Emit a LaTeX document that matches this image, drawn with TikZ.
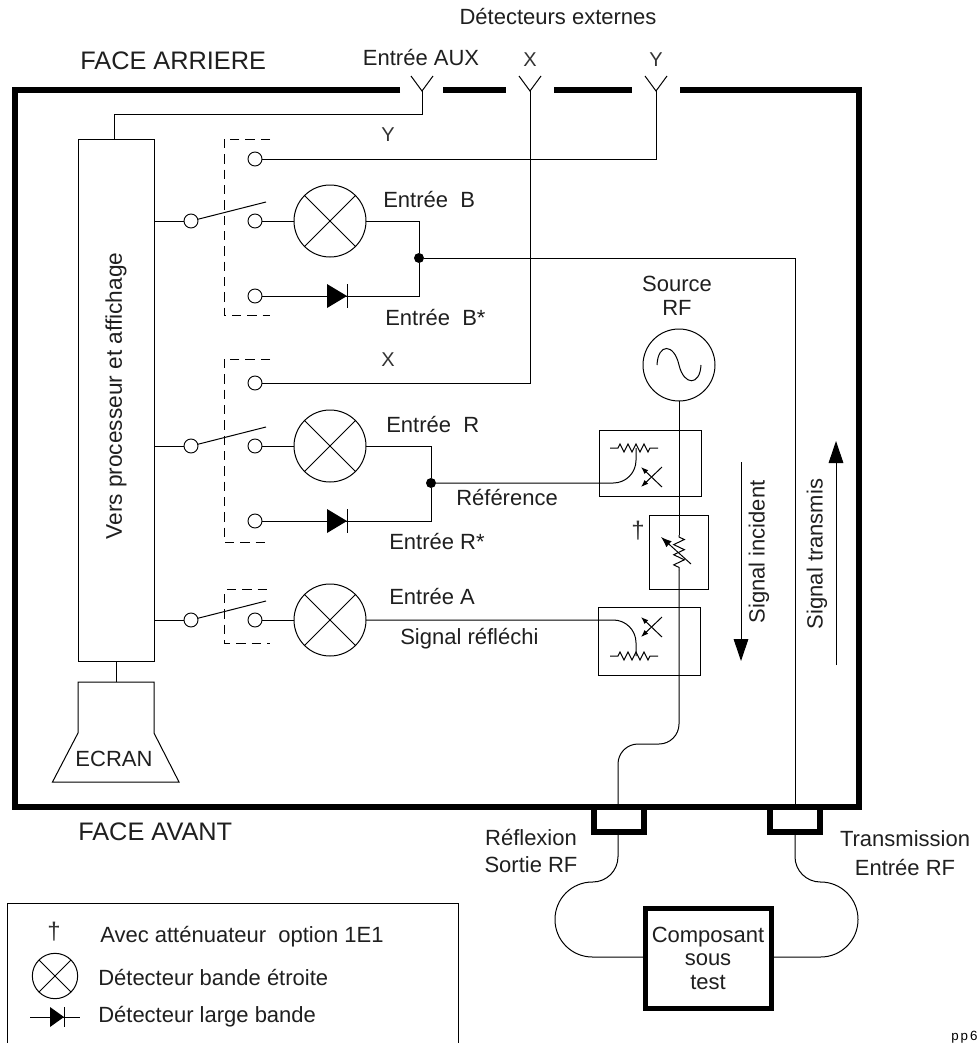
\documentclass[tikz,border=0pt]{standalone}
\usepackage{fontspec}
\setmainfont{Liberation Sans}
\usetikzlibrary{arrows.meta, positioning, shapes.geometric, decorations.pathmorphing}
\tikzset{
  wire/.style   = {line width=0.75pt},
  frame/.style  = {line width=4.5pt},
  dashbox/.style= {line width=0.7pt, dash pattern=on 7pt off 4.5pt},
  port/.style   = {circle, draw, fill=white, line width=0.7pt, minimum size=10.5pt,
                   inner sep=0pt, outer sep=0pt},
  detect/.style = {circle, draw, line width=0.75pt, minimum size=54pt,
                   inner sep=0pt, outer sep=0pt},
  joint/.style  = {circle, fill=black, minimum size=7.5pt, inner sep=0pt, outer sep=0pt},
  lbl/.style    = {font=\fontsize{16.5}{17.6}\selectfont, text=black!88, inner sep=0pt,
                   align=center},
  biglbl/.style = {font=\fontsize{19}{22}\selectfont, text=black!88, inner sep=0pt},
  xylbl/.style  = {font=\fontsize{15}{16}\selectfont, text=black!80, inner sep=0pt},
  dagger/.style = {font=\fontsize{18}{18}\selectfont, text=black!80, inner sep=0pt},
  boxed/.style  = {rectangle, draw, line width=0.75pt, inner sep=0pt, outer sep=0pt},
  res/.style    = {line width=0.75pt, decorate, decoration={zigzag, segment length=6pt,
                   amplitude=3pt, pre=lineto, pre length=6pt, post=lineto, post length=6pt}},
  bigarr/.style = {line width=0.75pt, -{Triangle[length=16.5pt, width=11pt]}},
  smallarr/.style = {line width=0.75pt, -{Latex[length=5.5pt, width=4pt]}},
}

\begin{document}
\begin{tikzpicture}[x=0.75pt, y=-0.75pt]
  \useasboundingbox (0,0) rectangle (977,1043);

  % rear and front panels
  \draw[frame] (400,90) -- (15,90) -- (15,807) -- (858.5,807) -- (858.5,90) -- (680,90);
  \draw[frame] (443,90) -- (506,90);
  \draw[frame] (554,90) -- (632,90);
  \foreach \a/\b in {593.5/643.5, 770/820}
    \draw[frame] (\a,807) |- (\b,832) -- (\b,807);

  \node[biglbl, anchor=west] (rear)  at (80,61) {FACE ARRIERE};
  \node[biglbl, anchor=west] (front) at (78,832) {FACE AVANT};
  \node[lbl] (extdet) at (558,17) {Détecteurs externes};
  \node[lbl] (auxlbl) at (421,58) {Entrée AUX};
  \node[xylbl] (xtop) at (530,60) {X};
  \node[xylbl] (ytop) at (656,60) {Y};
  \node[xylbl] (ylbl) at (388,135) {Y};
  \node[xylbl] (xlbl) at (388,360) {X};

  % antennas
  \coordinate (antaux) at (422,91);
  \coordinate (antx) at (530,91);
  \coordinate (anty) at (656,91);
  \foreach \n in {antaux, antx, anty}
    \draw[wire] ([shift={(-11,-15)}]\n) -- (\n) -- ([shift={(11,-15)}]\n);

  % processor and screen
  \node[boxed, minimum width=57pt, minimum height=391.5pt] (proc) at (116,400) {};
  \node[lbl, font=\fontsize{17}{18}\selectfont, rotate=90] (proctxt) at (116,396) {Vers processeur et affichage};
  \coordinate (auxbend) at (422,114);
  \coordinate (auxtop) at (114,139);
  \draw[wire] (antaux) -- (auxbend) -| (auxtop);
  \draw[wire] (78,682) -- (154,682) -- (154,733) -- (179,782) -- (52.5,782) -- (78,733) -- cycle;
  \coordinate (scrtop) at (116,682);
  \draw[wire] (proc.south) -- (scrtop);
  \node[lbl] (scrtxt) at (114,759) {ECRAN};

  % switches and narrow band detectors
  \foreach \g/\y in {b/221, r/446, a/620}{
    \node[port] (sw\g) at (191,\y) {};
    \node[port, right=37.5pt of sw\g] (in\g) {};
    \node[detect, right=24pt of in\g] (det\g) {};
    \coordinate (arm\g) at (266,{\y-19});
    \draw[wire] (proc.east |- sw\g) -- (sw\g);
    \draw[wire] (sw\g) -- (arm\g);
    \draw[wire] (in\g) -- (det\g);
    \draw[wire] (det\g.45) -- (det\g.225);
    \draw[wire] (det\g.135) -- (det\g.315);
  }

  % dashed switch covers
  \draw[dashbox] (270,139) -| (224,315) -- (270,315);
  \draw[dashbox] (270,359) -| (224,542) -- (270,542);
  \draw[dashbox] (227,589) -- (268,589);
  \draw[dashbox] (224,594) |- (270,643);

  % external detector inputs
  \node[port] (iny) at (255,159) {};
  \node[port] (inx) at (255,383) {};
  \draw[wire] (iny) -| (anty);
  \draw[wire] (inx) -| (antx);

  % broad band detectors
  \node[port] (lowb) at (255,296) {};
  \node[port] (lowr) at (255,521) {};
  \node[joint] (jb) at (419,258) {};
  \node[joint] (jr) at (431,483) {};
  \draw[wire] (detb) -| (jb);
  \draw[wire] (lowb) -| (jb);
  \draw[wire] (detr) -| (jr);
  \draw[wire] (lowr) -| (jr);
  \foreach \x/\y/\w/\h in {337/296/10/12, 337/521/10/12, 57/1017/7/10}{
    \fill (\x-\w,\y-\h) -- (\x+\w,\y) -- (\x-\w,\y+\h) -- cycle;
    \draw[line width=0.6pt] (\x+\w,\y-\h) -- (\x+\w,\y+\h);
  }

  \node[lbl, anchor=west] (lblb)  at (383,200) {Entrée~~B};
  \node[lbl, anchor=west] (lblbs) at (385,318) {Entrée~~B*};
  \node[lbl, anchor=west] (lblr)  at (386,425) {Entrée~~R};
  \node[lbl, anchor=west] (lblrs) at (389,542) {Entrée R*};
  \node[lbl, anchor=west] (lbla)  at (389,596) {Entrée A};
  \node[lbl, anchor=west] (lblref) at (456,498) {Référence};
  \node[lbl, anchor=west] (lblrefl) at (400,639) {Signal réfléchi};

  % source and signal path
  \node[detect] (src) at (679,365) {};
  \draw[wire] (657,365) .. controls (658,343) and (674,343) .. (679,365)
              .. controls (684,386) and (700,386) .. (701,365);
  \node[lbl] (srctxt) at (677,296) {Source\\RF};

  \node[boxed, minimum width=76.5pt, minimum height=50pt] (cpl1) at (650,463.5) {};
  \node[boxed, minimum width=44.25pt, minimum height=55.5pt] (atten) at (678.5,552) {};
  \node[boxed, minimum width=77pt, minimum height=51pt] (cpl2) at (649.5,641) {};
  \node[dagger] (dag) at (638,531) {†};

  \coordinate (atttop) at (679,535);
  \coordinate (attbot) at (679,570);
  \coordinate (rfb1) at (679,744);
  \coordinate (rfb2) at (618,744);
  \coordinate (rfout) at (618,807);
  \draw[wire] (src) -- (atttop);
  \draw[line width=0.75pt, decorate, decoration={zigzag, segment length=7.6pt, amplitude=4pt,
        pre=lineto, pre length=1.5pt, post=lineto, post length=1.5pt}] (atttop) -- (attbot);
  \draw[wire, rounded corners=15pt] (attbot) -- (rfb1) -- (rfb2) -- (rfout);
  \coordinate (attarr) at (661,537);
  \coordinate (attend) at (691,564);
  \draw[line width=0.75pt, -{Latex[length=8pt, width=6pt]}] (attend) -- (attarr);

  % couplers
  \foreach \n/\y in {1/448, 2/656}{
    \coordinate (rl\n) at (610,\y);
    \coordinate (rr\n) at (658,\y);
    \draw[res] (rl\n) -- (rr\n);
  }
  \coordinate (cb1) at (636,483);
  \coordinate (cr1) at (636,448);
  \coordinate (cb2) at (636,620);
  \coordinate (cr2) at (636,656);
  \draw[wire, rounded corners=17pt] (jr) -- (cb1) -- (cr1);
  \draw[wire, rounded corners=17pt] (deta) -- (cb2) -- (cr2);
  \foreach \y in {467, 617}{
    \draw[smallarr] (662,{\y+20}) -- (641,\y);
    \draw[smallarr] (662,\y) -- (641,{\y+20});
  }

  % transmitted signal
  \coordinate (trout) at (795,807);
  \draw[wire] (jb) -| (trout);
  \coordinate (arrtop) at (741,462);
  \coordinate (arrbot) at (741,661);
  \draw[bigarr] (arrtop) -- (arrbot);
  \coordinate (arrlow) at (836,665);
  \coordinate (arrhi) at (836,441);
  \draw[bigarr] (arrlow) -- (arrhi);
  \node[lbl, rotate=90] (incid) at (759,552) {Signal incident};
  \node[lbl, rotate=90] (trans) at (817,554) {Signal transmis};

  % device under test
  \node[boxed, line width=3.75pt, minimum width=94.5pt, minimum height=75pt] (dut) at (708,958) {};
  \node[lbl] (duttxt) at (708,958) {Composant\\sous\\test};
  \coordinate (cnl) at (618,832);
  \coordinate (cnr) at (795,832);
  \draw[wire, rounded corners=19pt] (cnl) -- (618,882) [rounded corners=28pt] -- (555,882) -- (555,957) -- (dut.west |- 0,957);
  \draw[wire, rounded corners=19pt] (cnr) -- (795,882) [rounded corners=28pt] -- (858,882) -- (858,957) -- (dut.east |- 0,957);
  \node[lbl] (refl) at (531,851) {Réflexion\\[2.5pt]Sortie RF};
  \node[lbl] (tran) at (905,853) {Transmission\\[4.5pt]Entrée RF};

  % legend
  \draw[wire] (7,1043) |- (458,903) -- (458,1043);
  \node[dagger] (legdag) at (54,932) {†};
  \node[lbl, anchor=west] (leg1) at (100,937) {Avec atténuateur~~option 1E1};
  \node[boxed, circle, minimum size=34pt] (legdet) at (55,976) {};
  \draw[wire] (legdet.45) -- (legdet.225);
  \draw[wire] (legdet.135) -- (legdet.315);
  \node[lbl, anchor=west] (leg2) at (98,977) {Détecteur bande étroite};
  \coordinate (legl) at (30,1017);
  \coordinate (legr) at (80,1017);
  \draw[wire] (legl) -- (legr);
  \node[lbl, anchor=west] (leg3) at (98,1017) {Détecteur large bande};
  \node[anchor=west, inner sep=0pt, font=\fontsize{10}{12}\selectfont\addfontfeatures{LetterSpace=15}] (tag) at (951,1037) {pp6};
\end{tikzpicture}
\end{document}
